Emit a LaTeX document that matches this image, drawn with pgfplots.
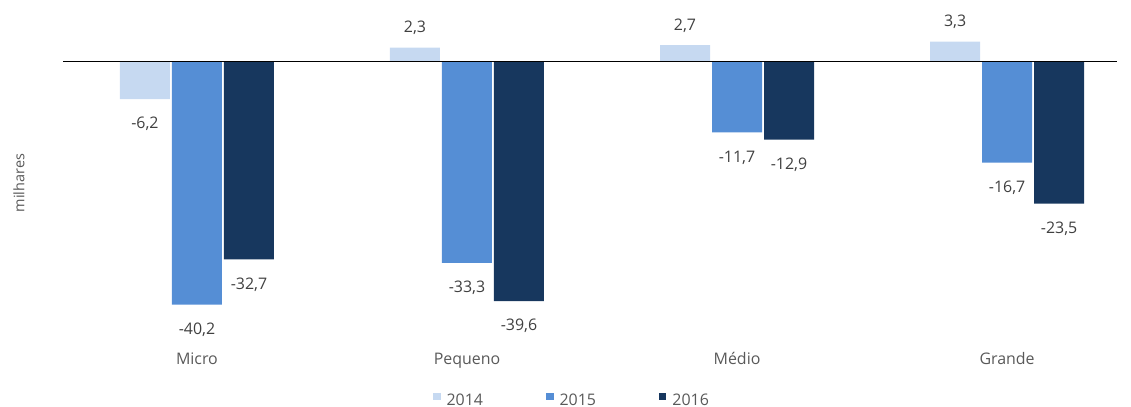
\documentclass[border=0pt]{standalone}
\usepackage{pgfplots}
\pgfplotsset{compat=1.18}
\usepackage{fontspec}
\setmainfont{Open Sans}
\definecolor{txt}{HTML}{595959}
\definecolor{lbl}{HTML}{404040}
\definecolor{c2014}{HTML}{C6D9F1}
\definecolor{c2015}{HTML}{558ED5}
\definecolor{c2016}{HTML}{17375E}
\begin{document}
\begin{tikzpicture}
\useasboundingbox (0,0) rectangle (1131bp,-407bp);
\begin{axis}[
  at={(63bp,-340bp)}, anchor=south west,
  scale only axis, width=1054bp, height=340bp,
  xmin=-0.496, xmax=3.407, ymin=-46.03, ymax=10.165,
  ybar=2bp, bar width=50bp,
  axis line style={draw=none},
  major tick length=0pt,
  ytick=\empty,
  xtick={0,1,2,3},
  xticklabels={Micro,Pequeno,Médio,Grande},
  xticklabel style={anchor=base, yshift=-24bp, font=\fontsize{16}{19}\selectfont, text=txt},
  clip=false,
  /pgf/number format/.cd, use comma, fixed, fixed zerofill, precision=1, assume math mode=true,
  /pgfplots/.cd,
  nodes near coords,
  visualization depends on={rawy \as \rawy},
  every node near coord/.append style={anchor=base, inner sep=0pt, text=lbl,
     font=\fontsize{16}{19}\selectfont,
     yshift={\rawy<0 ? -30 : 15}},
  legend columns=3,
  legend image code/.code={\fill[#1,draw=none] (0bp,0bp) rectangle (7.5bp,7.5bp);},
  legend style={at={(0.482,-0.176)}, anchor=center, draw=none, fill=none,
     inner sep=0pt, font=\fontsize{16}{19}\selectfont, text=txt,
     nodes={inner sep=0pt},
     /tikz/every odd column/.append style={column sep=6bp},
     /tikz/every even column/.append style={column sep=63bp}},
]
\addplot[fill=c2014, draw=none] coordinates {(0,-6.2) (1,2.3) (2,2.7) (3,3.3)};
\addplot[fill=c2015, draw=none] coordinates {(0,-40.2) (1,-33.3) (2,-11.7) (3,-16.7)};
\addplot[fill=c2016, draw=none] coordinates {(0,-32.7) (1,-39.6) (2,-12.9) (3,-23.5)};
\legend{2014,2015,2016}
\draw[black, line width=1.6bp] (axis cs:-0.496,0) -- (axis cs:3.407,0);
\end{axis}
\node[rotate=90, inner sep=0pt, text=txt, font=\fontsize{14.5}{17}\selectfont] at (19bp,-183bp) {milhares};
\end{tikzpicture}
\end{document}
